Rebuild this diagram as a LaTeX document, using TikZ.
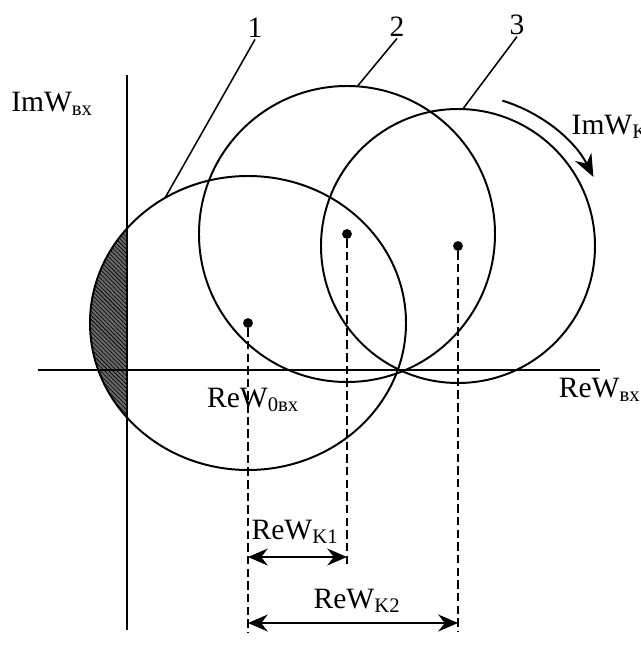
\documentclass[tikz,border=0pt]{standalone}
\usepackage{fontspec}
\setmainfont{Liberation Serif}
\usetikzlibrary{arrows.meta, patterns}

\begin{document}
\begin{tikzpicture}[x=0.025cm, y=0.025cm,
      every node/.style = {inner sep=1pt, font=\fontsize{21}{25}\selectfont},
      curve/.style = {line width=1.4pt},
      guide/.style = {line width=1.1pt, dash pattern=on 6pt off 3pt},
      dim/.style = {line width=1.3pt, {Stealth[length=14pt,width=12pt]}-{Stealth[length=14pt,width=12pt]}},
      dot/.style = {circle, fill, inner sep=0pt, minimum size=7pt}
    ]
      \useasboundingbox (-127,-276) rectangle (513,370);
      % centres of the three circles
      \coordinate (c1) at (121,47);
      \coordinate (c2) at (220,136);
      \coordinate (c3) at (331,124);
      % shaded part of circle 1 left of the imaginary axis
      \begin{scope}
        \clip (-127,-276) rectangle (0,370);
        \fill[black!60] (c1) ellipse [x radius=158, y radius=147];
        \fill[pattern=north west lines, pattern color=black] (c1) ellipse [x radius=158, y radius=147];
      \end{scope}
      % axes
      \draw[curve] (0,-260) -- (0,295);
      \draw[curve] (-89,0) -- (473,0);
      % circles
      \draw[curve] (c1) ellipse [x radius=158, y radius=147];
      \draw[curve] (c2) circle [radius=148];
      \draw[curve] (c3) circle [radius=137];
      \node[dot] (d1) at (c1) {};
      \node[dot] (d2) at (c2) {};
      \node[dot] (d3) at (c3) {};
      % projections on the real axis
      \coordinate (p1) at (121,-262);
      \coordinate (p2) at (220,-197);
      \coordinate (p3) at (331,-262);
      \draw[guide] (d1) -- (p1);
      \draw[guide] (d2) -- (p2);
      \draw[guide] (d3) -- (p3);
      \coordinate (k1a) at (121,-187);
      \coordinate (k1b) at (220,-187);
      \coordinate (k2a) at (121,-253);
      \coordinate (k2b) at (331,-253);
      \draw[dim] (k1a) -- (k1b);
      \draw[dim] (k2a) -- (k2b);
      \node (rek1) at (168,-162) {ReW\textsubscript{K1}};
      \node (rek2) at (230,-231) {ReW\textsubscript{K2}};
      % axis labels
      \node (imvx) at (-75,266) {ImW\textsubscript{вх}};
      \node (revx) [anchor=east] at (515,-20) {ReW\textsubscript{вх}};
      \node (re0) at (126,-30) {ReW\textsubscript{0вх}};
      \node (imk) [anchor=west] at (443,243) {ImW\textsubscript{K}};
      % rotation arrow
      \draw[curve, -{Stealth[length=16pt,width=13pt]}] ([shift={(73:152)}]c3) arc [start angle=73, end angle=27, radius=152];
      % leaders
      \node (n1) at (128,342) {1};
      \node (n2) at (270,343) {2};
      \node (n3) at (390,345) {3};
      \coordinate (t1) at (38,172);
      \coordinate (t2) at ([shift={(86:148)}]c2);
      \coordinate (t3) at ([shift={(88:137)}]c3);
      \draw[line width=1.1pt] (n1.south) -- (t1);
      \draw[line width=1.1pt] (n2.south) -- (t2);
      \draw[line width=1.1pt] (n3.south) -- (t3);
    \end{tikzpicture}
\end{document}
